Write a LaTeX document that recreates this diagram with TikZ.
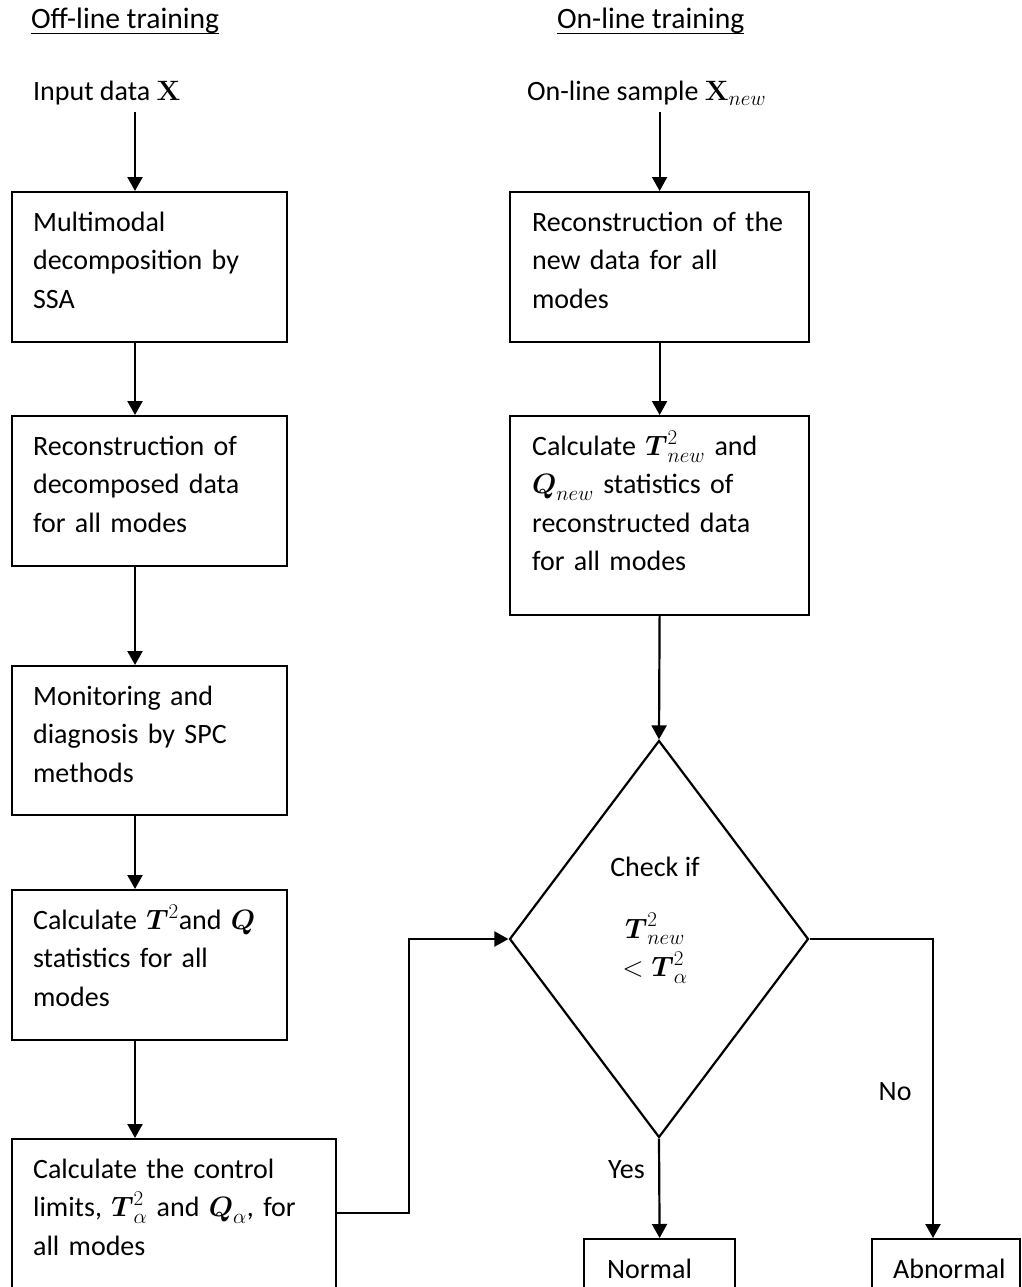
\RequirePackage{fix-cm}
\documentclass[tikz,border=0pt]{standalone}
\usepackage{amsmath,amssymb}
\usepackage[no-math]{fontspec}
\setmainfont{Carlito}
\DeclareMathSizes{28}{28}{21}{16}
\usetikzlibrary{arrows.meta,calc,positioning,shapes.geometric}

\begin{document}
\begin{tikzpicture}[x=1pt,y=-1pt,line width=2.2pt,
      font=\fontsize{28}{38.5}\selectfont,
      hd/.style={anchor=base west,inner sep=0pt,
        font=\fontsize{29.6}{38.5}\selectfont},
      box/.style={draw,anchor=north west,align=left,inner xsep=21pt,
        inner ysep=0pt,text height=39pt,text depth=111pt},
      dec/.style={draw,diamond,inner sep=0pt,minimum width=299pt,
        minimum height=397pt},
      arr/.style={-{Triangle[length=14pt,width=15pt]}}]
  \useasboundingbox (0,0) rectangle (1021,1287);
  % headings
  \node[hd] (offhd) at (30,29) {\underline{\smash{Off-line training}}};
  \node[hd] (onhd) at (556,29) {\underline{\smash{On-line training}}};
  \node[anchor=base west,inner xsep=0pt,inner ysep=5pt] (indata) at (32,101)
    {Input data $\mathbf{X}$};
  \node[anchor=base west,inner xsep=0pt,inner ysep=5pt] (newsmp) at (526,101)
    {On-line sample $\mathbf{X}_{new}$};
  % off-line column
  \node[box,text width=233pt] (decomp) at (11,191)
    {Multimodal\\decomposition by\\SSA};
  \node[box,text width=233pt] (recdec) at (11,415)
    {Reconstruction of\\decomposed data\\for all modes};
  \node[box,text width=233pt,text depth=110pt] (spc) at (11,665)
    {Monitoring and\\diagnosis by SPC\\methods};
  \node[box,text width=233pt] (stats) at (11,889)
    {Calculate $\boldsymbol{T}^2$and $\boldsymbol{Q}$\\statistics for all\\modes};
  \node[box,text width=282pt,text depth=160pt] (limits) at (11,1138)
    {Calculate the control\\limits, $\boldsymbol{T}^2_{\alpha}$ and
     $\boldsymbol{Q}_{\alpha}$, for\\all modes};
  % on-line column
  \node[box,text width=255pt,inner xsep=22pt] (newrec) at (509,191)
    {Reconstruction of the\\new data for all\\modes};
  \node[box,text width=255pt,inner xsep=22pt,text depth=160pt] (newstat) at (509,415)
    {Calculate $\boldsymbol{T}^2_{new}$ and\\$\boldsymbol{Q}_{new}$ statistics of\\reconstructed data\\for all modes};
  \node[dec] (check) at (659,939) {};
  \node[align=center,anchor=north,inner sep=0pt] (checktxt) at (655,856)
    {Check if\\[23pt]$\boldsymbol{T}^2_{new}$\\$<\boldsymbol{T}^2_{\alpha}$};
  \node[box,text width=105pt,inner xsep=23pt,text depth=60pt] (normal) at (583,1238)
    {Normal};
  \node[box,text width=106pt,text depth=60pt] (abnormal) at (871,1238)
    {Abnormal};
  % connectors
  \coordinate (lcol) at (135,0);
  \coordinate (bend) at (409,1213);
  \coordinate (nocol) at (933,0);
  \draw[arr] (indata.south -| lcol) -- (decomp.north -| lcol);
  \draw[arr] (decomp.south -| lcol) -- (recdec.north -| lcol);
  \draw[arr] (recdec.south -| lcol) -- (spc.north -| lcol);
  \draw[arr] (spc.south -| lcol) -- (stats.north -| lcol);
  \draw[arr] (stats.south -| lcol) -- (limits.north -| lcol);
  \draw[arr] (newsmp.south -| newrec.north) -- (newrec.north);
  \draw[arr] (newrec.south) -- (newstat.north);
  \draw[arr] (newstat.south) -- (check.north);
  \draw[arr] (limits.east |- bend) -- (bend) |- (check.west);
  \draw[arr] (check.south) -- node[pos=0.31,left=10pt] {Yes} (normal.north);
  \draw[arr] (check.east) -| node[pos=0.756,left=17pt] {No} (abnormal.north -| nocol);
\end{tikzpicture}
\end{document}
